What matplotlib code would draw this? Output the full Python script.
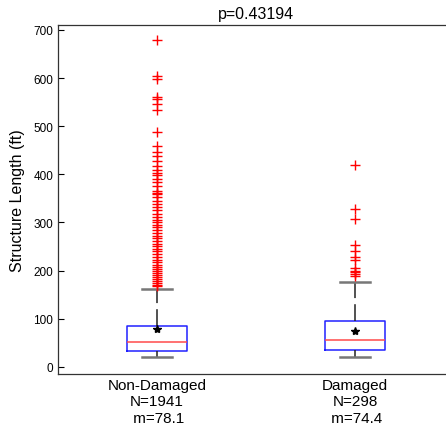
import matplotlib
matplotlib.use("Agg")
import matplotlib.pyplot as plt

plt.rcParams['font.family'] = ['Liberation Sans', 'DejaVu Sans']

# box statistics (ft)
groups = ["Non-Damaged", "Damaged"]
counts = [1941, 298]
means = [78.1, 74.4]
q1 = [33, 35]
medians = [52, 56]
q3 = [85, 96]
whislo = [21, 21]
whishi = [162, 177]

# outliers (ft)
fliers_nd = [680, 605, 598, 560, 557, 545, 533, 487, 458, 447, 437, 428, 418,
             408, 402, 398, 390, 383, 375, 366, 362, 358, 352, 345, 338, 333,
             325, 318, 312, 305, 300, 295, 290, 285, 278, 272, 267, 262, 255,
             250, 245, 240, 235, 228, 222, 218, 212, 207, 203, 198, 194, 190,
             186, 182, 178, 174, 170, 168]
fliers_d = [420, 327, 308, 252, 240, 228, 222, 205, 200, 196, 192, 188]
fliers = [fliers_nd, fliers_d]

stats = []
for i in range(len(groups)):
    stats.append({
        'label': f"{groups[i]}\nN={counts[i]}\n m={means[i]}",
        'mean': means[i], 'q1': q1[i], 'med': medians[i], 'q3': q3[i],
        'whislo': whislo[i], 'whishi': whishi[i], 'fliers': fliers[i],
    })

fig = plt.figure(figsize=(4.46, 4.35), dpi=100)
ax = fig.add_axes([0.130, 0.138, 0.888, 0.802])

ax.bxp(stats, positions=[1, 2], widths=0.3, showmeans=True,
       boxprops=dict(color='#2020ff', linewidth=1.1),
       medianprops=dict(color='#ff4a4a', linewidth=1.1),
       whiskerprops=dict(color='#222222', linewidth=1.1, linestyle=(0, (11, 4))),
       capprops=dict(color='#777777', linewidth=1.8),
       capwidths=0.15,
       flierprops=dict(marker='+', markeredgecolor='#ff0000', markersize=7,
                       linestyle='none'),
       meanprops=dict(marker='*', markerfacecolor='black',
                      markeredgecolor='black', markersize=6))

ax.set_xlim(0.5, 2.5)
ax.set_ylim(-15, 710)
ax.set_yticks(range(0, 701, 100))
ax.tick_params(axis='y', direction='in', labelsize=8.5, length=4)
ax.tick_params(axis='x', length=0, labelsize=11, pad=3)
for s in ax.spines.values():
    s.set_linewidth(0.9)
    s.set_color('#333333')

ax.set_ylabel("Structure Length (ft)", fontsize=11.5, labelpad=6)
ax.set_title("p=0.43194", fontsize=11.5, pad=5)

fig.savefig("out.png", dpi=100)
